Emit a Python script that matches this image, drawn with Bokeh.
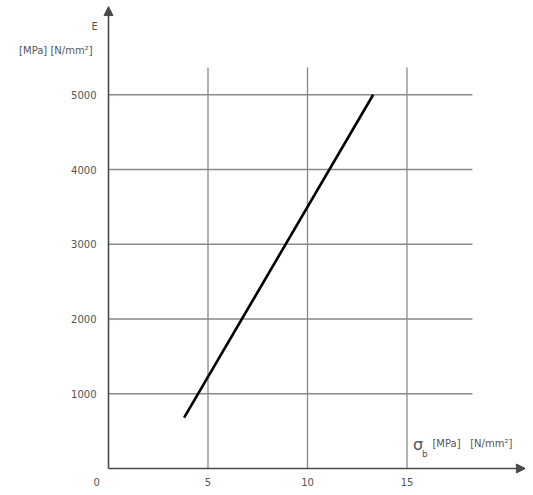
from bokeh.plotting import figure
from bokeh.models import Range1d, Arrow, NormalHead
from bokeh.core.properties import value
from bokeh.embed import file_html
from bokeh.resources import INLINE

# Data
sigma_b = [3.8, 13.3]          # MPa
E_mod = [680, 5000]            # MPa
x_ticks = [0, 5, 10, 15]
x_tick_labels = ["0", "5", "10", "15"]
y_ticks = [1000, 2000, 3000, 4000, 5000]
y_tick_labels = ["1000", "2000", "3000", "4000", "5000"]

FONT = value("DejaVu Sans")
TXT = "#555555"
GRID = "#8a8a8a"
AX = "#4a4a4a"

p = figure(width=525, height=487, output_backend="svg", toolbar_location=None,
           x_axis_type=None, y_axis_type=None,
           x_range=Range1d(-5.427, 20.955), y_range=Range1d(-254, 6261),
           min_border=0)
p.outline_line_color = None
p.grid.visible = False
p.background_fill_color = "white"

# grid lines
grid_x_end = 18.29
grid_y_end = 5365
p.segment(x0=[0] * len(y_ticks), y0=y_ticks, x1=[grid_x_end] * len(y_ticks), y1=y_ticks,
          line_color=GRID, line_width=1.3)
vx = [t for t in x_ticks if t > 0]
p.segment(x0=vx, y0=[0] * len(vx), x1=vx, y1=[grid_y_end] * len(vx),
          line_color=GRID, line_width=1.3)

# axes with arrows
p.add_layout(Arrow(end=NormalHead(size=9, fill_color=AX, line_color=AX),
                   x_start=0, y_start=0, x_end=0, y_end=6180,
                   line_color=AX, line_width=1.6))
p.add_layout(Arrow(end=NormalHead(size=9, fill_color=AX, line_color=AX),
                   x_start=0, y_start=0, x_end=20.95, y_end=0,
                   line_color=AX, line_width=1.6))

# the curve
p.line(sigma_b, E_mod, line_color="black", line_width=2.6)

# tick labels
p.text(x=[-0.6] * len(y_ticks), y=y_ticks, text=y_tick_labels, text_font=FONT,
       text_font_size="10px", text_color=TXT, text_align="right", text_baseline="middle")
xl = [t if t > 0 else -0.6 for t in x_ticks]
p.text(x=xl, y=[-187] * len(x_ticks), text=x_tick_labels, text_font=FONT,
       text_font_size="10px", text_color=TXT, text_align="center", text_baseline="middle")

# axis titles
p.text(x=[-0.7], y=[5913], text=["E"], text_font=FONT, text_font_size="10px",
       text_color=TXT, text_align="center", text_baseline="middle")
p.text(x=[-0.8], y=[5592], text=["[MPa] [N/mm²]"], text_font=FONT, text_font_size="10px",
       text_color=TXT, text_align="right", text_baseline="middle")
p.text(x=[15.3], y=[320], text=["σ"], text_font=FONT, text_font_size="16px",
       text_color=TXT, text_align="left", text_baseline="middle")
p.text(x=[15.75], y=[190], text=["b"], text_font=FONT, text_font_size="9px",
       text_color=TXT, text_align="left", text_baseline="middle")
p.text(x=[16.28], y=[334], text=["[MPa]\u00a0\u00a0\u00a0[N/mm²]"], text_font=FONT,
       text_font_size="10px", text_color=TXT, text_align="left", text_baseline="middle")

open("out.html", "w").write(file_html(p, INLINE))
